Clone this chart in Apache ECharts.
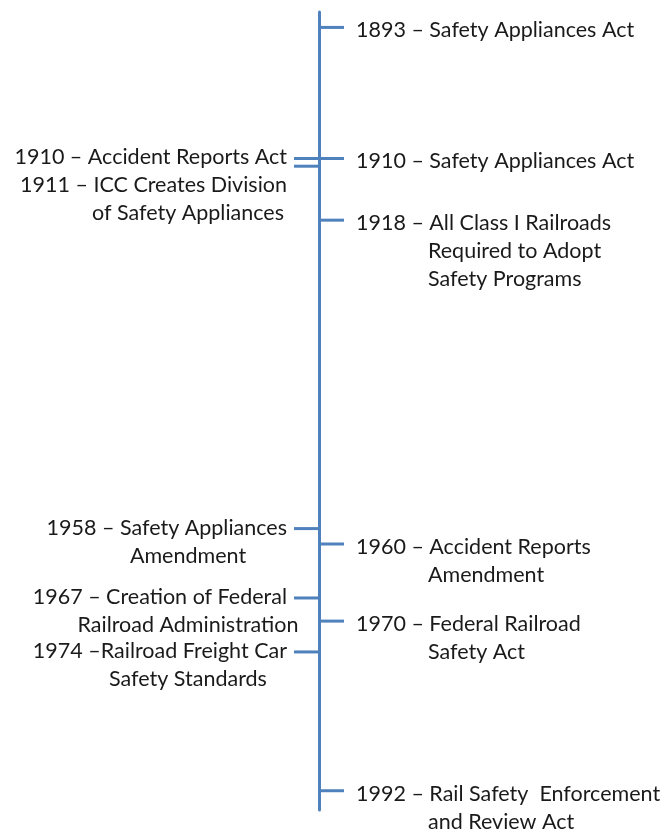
<!DOCTYPE html>
<html>
<head>
<meta charset="utf-8">
<script src="https://cdn.jsdelivr.net/npm/echarts@6/dist/echarts.min.js"></script>
<style>
  html, body { margin: 0; padding: 0; background: #fff; }
  #main { width: 664px; height: 835px; }
</style>
</head>
<body>
<div id="main"></div>
<script>
  // timeline events (year, which side of the line, first line, following lines)
  var years = [1893, 1910, 1910, 1911, 1918, 1958, 1960, 1967, 1970, 1974, 1992]
  var sides = ['R', 'R', 'L', 'L', 'R', 'L', 'R', 'L', 'R', 'L', 'R']
  var heads = [
    '1893 – Safety Appliances Act',
    '1910 – Safety Appliances Act',
    '1910 – Accident Reports Act',
    '1911 – ICC Creates Division',
    '1918 – All Class I Railroads',
    '1958 – Safety Appliances',
    '1960 – Accident Reports',
    '1967 – Creation of Federal',
    '1970 – Federal Railroad',
    '1974 –Railroad Freight Car',
    '1992 – Rail Safety  Enforcement'
  ]
  var rests = [
    '', '', '',
    'of Safety Appliances',
    'Required to Adopt\nSafety Programs',
    'Amendment',
    'Amendment',
    'Railroad Administration',
    'Safety Act',
    'Safety Standards',
    'and Review Act'
  ]
  var yearMin = 1891
  var yearMax = 1994.5

  // 1910 and 1911 share one text box on the left, so push the 1911 text down
  var labelNudge = { 3: 20 }

  var blue = '#4F81BD'
  var font = '21.5px Lato'
  var lineH = 28

  var myChart = echarts.init(document.getElementById('main'))

  var option = {
    animation: false,
    grid: { left: 319, right: 0, top: 12, height: 798 },
    xAxis: { type: 'value', min: 0, max: 1, show: false },
    yAxis: {
      type: 'value',
      inverse: true,
      min: yearMin,
      max: yearMax,
      axisLine: { show: true, lineStyle: { color: blue, width: 3 } },
      axisTick: { show: false },
      axisLabel: { show: false },
      splitLine: { show: false }
    },
    series: [{
      type: 'custom',
      coordinateSystem: 'cartesian2d',
      data: years.map(function (y, i) { return [0, y, i] }),
      renderItem: function (params, api) {
        var i = api.value(2)
        var p = api.coord([0, api.value(1)])
        var right = sides[i] === 'R'
        var dy = (right ? 3 : -1) + (labelNudge[i] || 0)
        var kids = [{
          type: 'line',
          shape: { x1: p[0], y1: p[1], x2: p[0] + (right ? 25 : -25), y2: p[1] },
          style: { stroke: blue, lineWidth: 3 }
        }, {
          type: 'text',
          x: right ? p[0] + 37 : p[0] - 32,
          y: p[1] + dy,
          style: {
            text: heads[i], font: font, fill: '#1a1a1a',
            align: right ? 'left' : 'right', verticalAlign: 'middle'
          }
        }]
        if (rests[i]) {
          kids.push({
            type: 'text',
            x: right ? p[0] + 109 : p[0] - 131,
            y: p[1] + dy + lineH / 2,
            style: {
              text: rests[i], font: font, fill: '#1a1a1a', lineHeight: lineH,
              align: right ? 'left' : 'center', verticalAlign: 'top'
            }
          })
        }
        return { type: 'group', children: kids }
      }
    }]
  }

  myChart.setOption(option)
</script>
</body>
</html>
